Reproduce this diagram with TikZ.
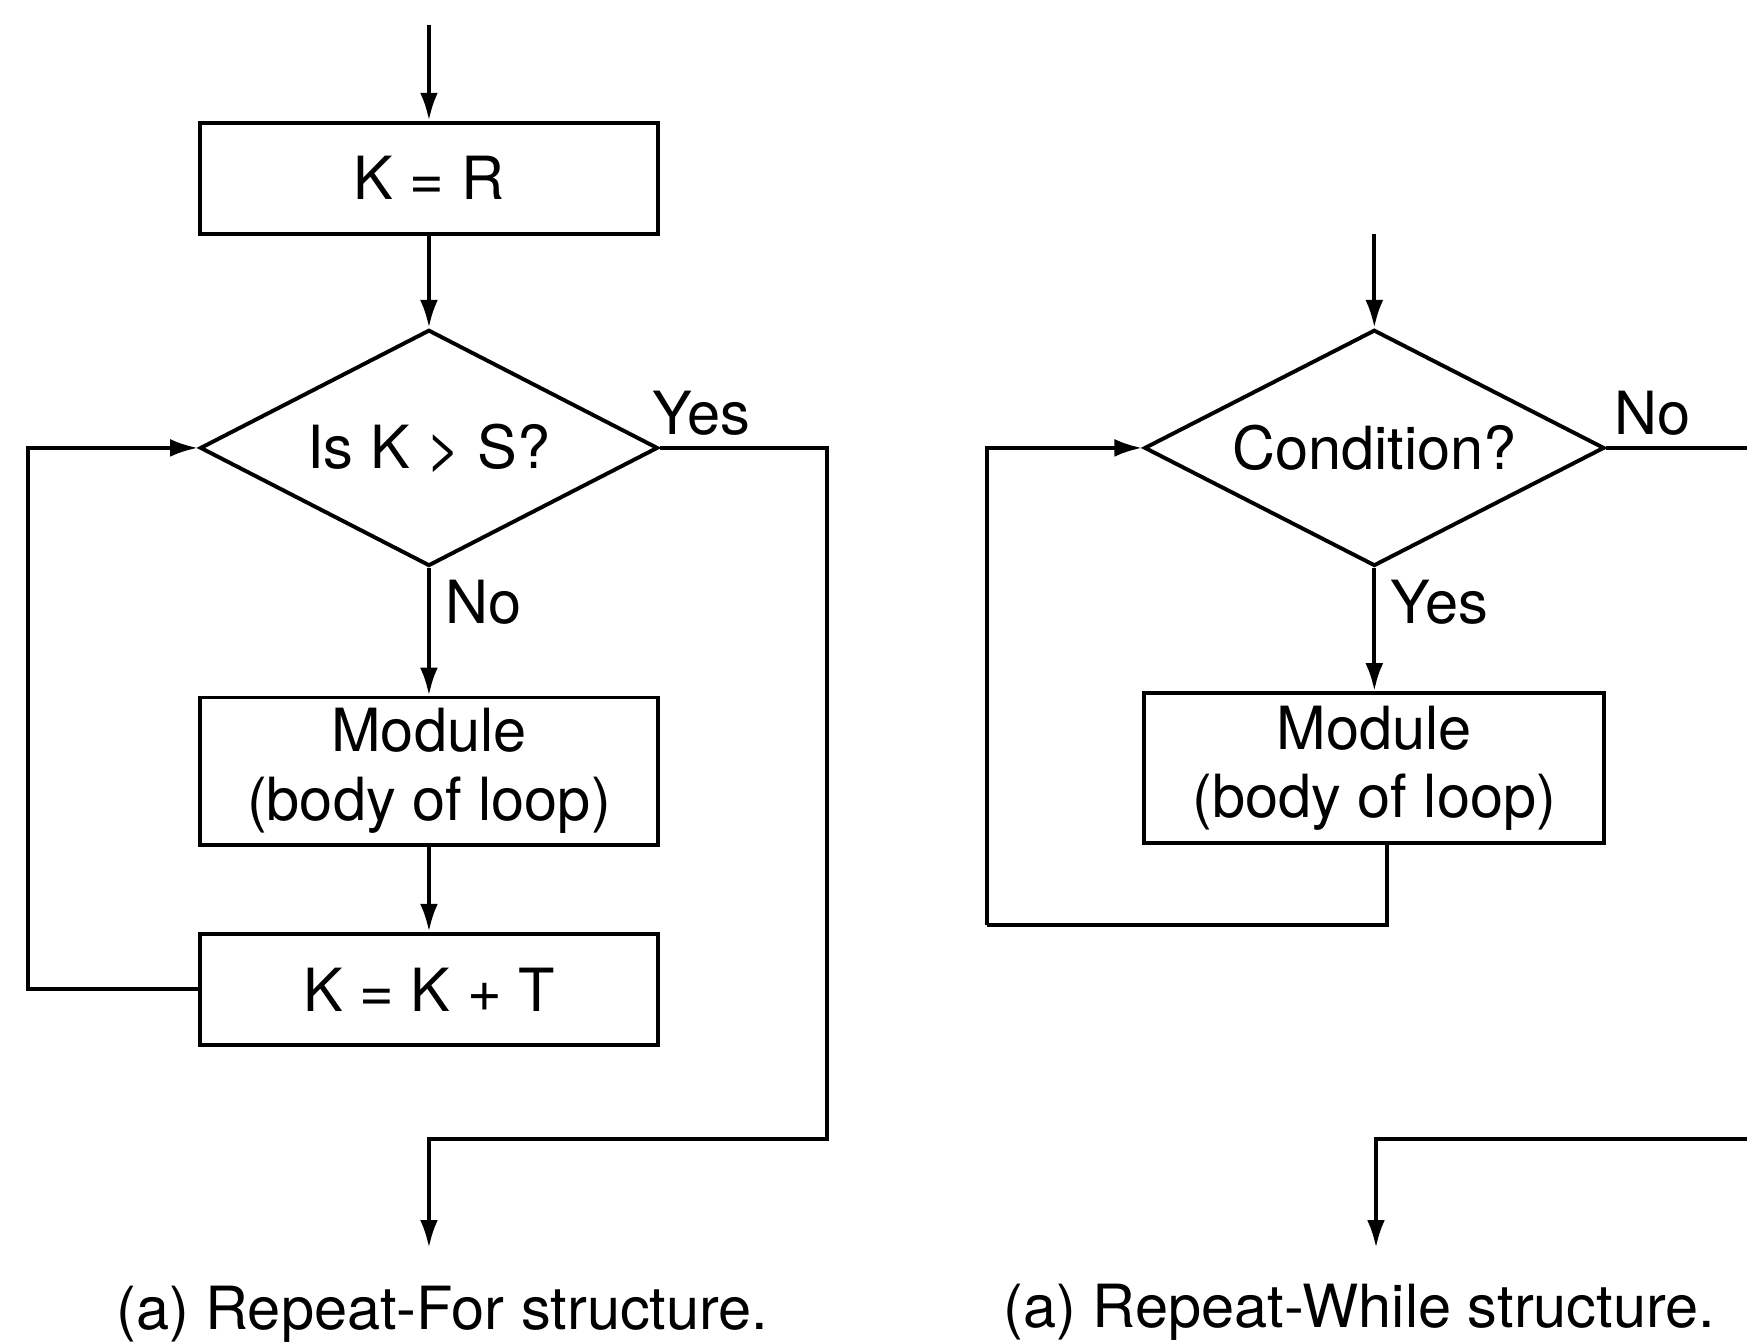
\documentclass[tikz,border=0pt]{standalone}
\usepackage{fontspec}
\setmainfont{TeX Gyre Heros}
\usetikzlibrary{shapes.geometric,arrows.meta,positioning}

\tikzset{
  flowbox/.style={draw, line width=1pt, minimum width=4.11cm, minimum height=1cm,
    align=center, inner sep=0pt},
  testbox/.style={draw, diamond, line width=1pt, aspect=2, inner sep=0pt,
    minimum width=4.11cm, minimum height=2.12cm},
  flow/.style={line width=1pt, -{Latex[length=2.5mm,width=1.6mm]}},
  wire/.style={line width=1pt},
  answer/.style={inner sep=1pt},
}

\begin{document}
\begin{tikzpicture}[font=\fontsize{15.2}{17.5}\selectfont]
  \useasboundingbox (0,0) rectangle (15.68,-12.06);

  % Repeat-For
  \begin{scope}
    \coordinate (forin) at (3.85,-0.22);
    \node[flowbox] (init) at (3.85,-1.60) {K = R};
    \node[testbox] (fortest) at (3.85,-4.02) {Is K > S?};
    \node[flowbox, minimum height=1.32cm] (forbody) at (3.85,-6.92) {Module\\(body of loop)};
    \node[flowbox] (incr) at (3.85,-8.88) {K = K + T};
    \coordinate (forexit) at (7.42,-10.22);
    \coordinate (forout) at (3.85,-11.20);
    \coordinate (forback) at (0.25,-8.88);

    \node[answer, anchor=south west] (foryes) at ([xshift=-3pt, yshift=2pt]fortest.east) {Yes};
    \node[answer, anchor=north west] (forno) at ([xshift=3pt, yshift=-2pt]fortest.south) {No};

    \draw[flow] (forin) -- (init);
    \draw[flow] (init) -- (fortest);
    \draw[flow] (fortest) -- (forbody);
    \draw[flow] (forbody) -- (incr);
    \draw[flow] (incr.west) -- (forback) |- (fortest.west);
    \draw[flow] (fortest.east) -| (forexit) -| (forout);

    \node (forcap) at (3.97,-11.80) {(a) Repeat-For structure.};
  \end{scope}

  % Repeat-While
  \begin{scope}
    \coordinate (whin) at (12.335,-2.10);
    \node[testbox, minimum width=4.13cm] (whtest) at (12.335,-4.02) {Condition?};
    \node[flowbox, minimum width=4.13cm, minimum height=1.35cm] (whbody) at (12.335,-6.895) {Module\\(body of loop)};
    \coordinate (whdown) at (12.45,-8.30);
    \coordinate (whback) at (8.86,-8.30);
    \coordinate (whedge) at (15.68,-4.02);
    \coordinate (whreturn) at (15.68,-10.22);
    \coordinate (whout) at (12.35,-11.20);

    \node[answer, anchor=south west] (whno) at ([xshift=1pt, yshift=2pt]whtest.east) {No};
    \node[answer, anchor=north west] (whyes) at ([xshift=3pt, yshift=-2pt]whtest.south) {Yes};

    \draw[flow] (whin) -- (whtest);
    \draw[flow] (whtest) -- (whbody);
    \draw[wire] (whbody.south -| whdown) -- (whdown) -- (whback);
    \draw[flow] (whback) |- (whtest.west);
    \draw[wire] (whtest.east) -- (whedge);
    \draw[flow] (whreturn) -| (whout);

    \node (whcap) at (12.20,-11.78) {(a) Repeat-While structure.};
  \end{scope}
\end{tikzpicture}
\end{document}
